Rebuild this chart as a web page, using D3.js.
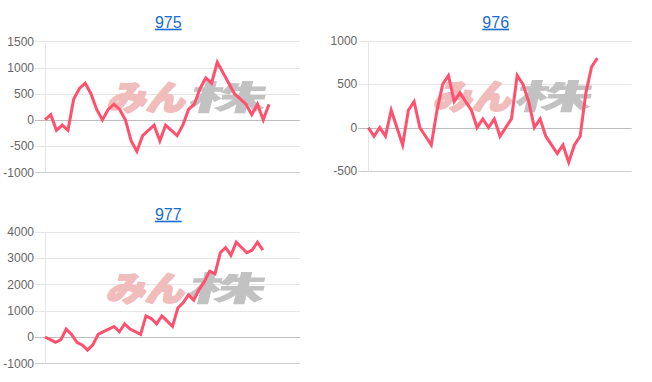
<!DOCTYPE html>
<html><head><meta charset="utf-8">
<script src="https://cdn.jsdelivr.net/npm/d3@7"></script>
<style>html,body{margin:0;padding:0;background:#fff;}svg{display:block;}</style>
</head><body>
<svg id="c" width="652" height="382"></svg>
<script>
// ---- data ----
const titles = ["975", "976", "977"];
const values975 = [0,100,-200,-100,-200,400,600,700,500,200,0,200,300,200,0,-400,-600,-300,-200,-100,-400,-100,-200,-300,-100,200,300,600,800,700,1100,900,700,500,400,300,100,300,0,300];
const values976 = [0,-100,0,-100,200,0,-200,200,300,0,-100,-200,200,500,600,300,400,300,200,0,100,0,100,-100,0,100,600,500,300,0,100,-100,-200,-300,-200,-400,-200,-100,400,700,800];
const values977 = [0,-100,-200,-100,300,100,-200,-300,-500,-300,100,200,300,400,200,500,300,200,100,800,700,500,800,600,400,1100,1300,1600,1400,1800,2100,2500,2400,3200,3400,3100,3600,3400,3200,3300,3600,3300];
const ticks975 = [-1000,-500,0,500,1000,1500];
const ticks976 = [-500,0,500,1000];
const ticks977 = [-1000,0,1000,2000,3000,4000];
const logoPink = "みん";
const logoGray = "株";

// ---- layout (positions/sizes only) ----
const layouts = [
  {left:45, right:300, top:41.3, bottom:172.3, titleX:168.3, titleY:27.7, xMax:44.4, logoX:106, logoY:83},
  {left:368.3, right:631.7, top:40.7, bottom:171, titleX:495.7, titleY:27.7, xMax:46, logoX:432, logoY:82},
  {left:45, right:300, top:231.7, bottom:363.3, titleX:168.3, titleY:219.7, xMax:48, logoX:105, logoY:274}
];
const seriesList = [values975, values976, values977];
const tickList = [ticks975, ticks976, ticks977];

const svg = d3.select("#c");
const lineColor = "rgb(255,80,110)";

seriesList.forEach((vals, k) => {
  const L = layouts[k];
  const ticks = tickList[k];
  const g = svg.append("g");
  const x = d3.scaleLinear().domain([0, L.xMax]).range([L.left, L.right]);
  const y = d3.scaleLinear().domain([d3.min(ticks), d3.max(ticks)]).range([L.bottom, L.top]);

  // title
  g.append("text")
    .attr("x", L.titleX).attr("y", L.titleY)
    .attr("text-anchor", "middle")
    .attr("font-family", "Arial, 'Liberation Sans', sans-serif")
    .attr("font-size", 16)
    .attr("fill", "#1a6dcc")
    .style("text-decoration", "underline")
    .text(titles[k]);

  // gridlines
  const minT = d3.min(ticks);
  g.selectAll("line.grid").data(ticks).join("line")
    .attr("x1", L.left - 10).attr("x2", L.right)
    .attr("y1", d => Math.round(y(d)) + 0.5).attr("y2", d => Math.round(y(d)) + 0.5)
    .attr("stroke", d => d === 0 ? "#bdbdbd" : (d === minT ? "#cfcfcf" : "#e6e6e6"))
    .attr("stroke-width", 1);

  // y axis border
  g.append("line")
    .attr("x1", Math.round(L.left) + 0.5).attr("x2", Math.round(L.left) + 0.5)
    .attr("y1", y(d3.max(ticks))).attr("y2", y(minT))
    .attr("stroke", "#e6e6e6");

  // tick labels
  g.selectAll("text.tick").data(ticks).join("text")
    .attr("x", L.left - 11)
    .attr("y", d => y(d))
    .attr("dy", "0.36em")
    .attr("text-anchor", "end")
    .attr("font-family", "Arial, 'Liberation Sans', sans-serif")
    .attr("font-size", 12)
    .attr("fill", "#666")
    .text(d => d);

  // watermark
  const wm = g.append("g")
    .attr("transform", `translate(${L.logoX},${L.logoY}) skewX(-14) translate(${0.25*29},0)`);
  wm.append("text")
    .attr("x", 0).attr("y", 27)
    .attr("font-family", "'Noto Sans CJK JP', sans-serif")
    .attr("font-weight", 900)
    .attr("font-size", 34)
    .attr("fill", "#f0bcbc")
    .attr("stroke", "#f0bcbc").attr("stroke-width", 2).attr("stroke-linejoin", "round")
    .attr("textLength", 78).attr("lengthAdjust", "spacingAndGlyphs")
    .text(logoPink);
  wm.append("text")
    .attr("x", 80).attr("y", 27)
    .attr("font-family", "'Noto Sans CJK JP', sans-serif")
    .attr("font-weight", 900)
    .attr("font-size", 34)
    .attr("fill", "#c2c2c2")
    .attr("textLength", 78).attr("lengthAdjust", "spacingAndGlyphs")
    .text(logoGray);

  // line
  const line = d3.line().x((d, i) => x(i)).y(d => y(d)).curve(d3.curveLinear);
  g.append("path")
    .datum(vals)
    .attr("d", line)
    .attr("fill", "none")
    .attr("stroke", lineColor)
    .attr("stroke-width", 3)
    .attr("stroke-linejoin", "miter")
    .attr("stroke-miterlimit", 10);
});
</script>
</body></html>
